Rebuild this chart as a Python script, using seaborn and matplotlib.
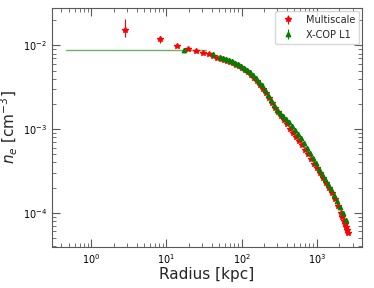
import numpy as np
import pandas as pd
import matplotlib
matplotlib.use("Agg")
import matplotlib.pyplot as plt
import seaborn as sns

# Multiscale profile (red stars)
ms_r = [2.78, 8.32, 13.7, 19.5, 24.9, 30.2, 36.3, 41.9, 47.4, 52.5, 57.5, 63.1,
        69.2, 75.9, 83.2, 91.2, 100, 109.6, 120.2, 131.8, 144.5, 158.5, 173.8,
        190.5, 208.9, 229.1, 251.2, 275.4, 302, 331, 363, 398, 437, 479, 525,
        575, 631, 692, 759, 832, 912, 1000, 1096, 1202, 1318, 1445, 1585, 1738,
        1905, 2089, 2190, 2291, 2365, 2436, 2510, 2590]
ms_ne = [0.01525, 0.0118, 0.00992, 0.00913, 0.00854, 0.00818, 0.00787, 0.00745,
         0.00718, 0.00699, 0.0068, 0.00656, 0.00634, 0.00614, 0.00589, 0.00563,
         0.00538, 0.00509, 0.00478, 0.00446, 0.00414, 0.00376, 0.00341, 0.00305,
         0.0027, 0.00235, 0.00205, 0.00181, 0.00161, 0.00143, 0.00128, 0.00115,
         0.001014, 0.000908, 0.000813, 0.000728, 0.000643, 0.000568, 0.000502,
         0.000443, 0.000388, 0.000341, 0.000299, 0.000262, 0.000229, 0.000199,
         0.000171, 0.000145, 0.000121, 0.0000986, 0.0000885, 0.0000791,
         0.0000735, 0.000068, 0.0000628, 0.0000576]
ms_err_lo = [0.0027, 0.0011, 0.0004] + [0.0] * 53
ms_err_hi = [0.0056, 0.0012, 0.0004] + [0.0] * 53

# X-COP L1 profile (green triangles)
xc_r = [17.2, 41.0, 50.9, 55.8, 61.2, 67.1, 73.6, 80.7, 88.5, 97.0, 106.3, 116.6,
        127.9, 140.2, 153.7, 168.5, 184.8, 202.6, 222.2, 243.6, 267.1, 292.9,
        321.1, 352.2, 386.1, 423.4, 464.2, 509.0, 558.1, 611.9, 670.9, 735.6,
        806.6, 884.4, 969.8, 1063, 1166, 1278, 1402, 1537, 1685, 1848, 2026,
        2222, 2436]
xc_ne = [0.00879, 0.00787, 0.00732, 0.00712, 0.00693, 0.0067, 0.00647, 0.00622,
         0.00595, 0.00571, 0.00542, 0.00512, 0.00478, 0.00443, 0.00408, 0.00371,
         0.00334, 0.00297, 0.00259, 0.00223, 0.00194, 0.00171, 0.00154, 0.00142,
         0.00132, 0.00121, 0.0011, 0.000986, 0.000883, 0.00078, 0.000689, 0.0006,
         0.000523, 0.000456, 0.000392, 0.000337, 0.000293, 0.000255, 0.000223,
         0.000191, 0.000164, 0.000139, 0.000118, 0.0000986, 0.0000813]

# flat inner extension of the X-COP profile
flat_r = [0.46, 34.0]
flat_ne = [0.0088, 0.0088]

sns.set_style("ticks")
plt.rcParams['font.family'] = ['DejaVu Sans']

fig = plt.figure(figsize=(3.74, 2.88), dpi=100)
ax = fig.add_axes([0.139, 0.142, 0.829, 0.830])

flat = pd.DataFrame({'r': flat_r, 'ne': flat_ne})
sns.lineplot(data=flat, x='r', y='ne', color='green', alpha=0.6, lw=1.0, ax=ax)

ax.errorbar(ms_r, ms_ne, yerr=[ms_err_lo, ms_err_hi], fmt='*', color='red',
            ms=3.8, elinewidth=0.8, capsize=0, label='Multiscale', zorder=3)
ax.errorbar(xc_r, xc_ne, yerr=0.0, fmt='^', color='green', ms=3.2,
            elinewidth=0.8, capsize=0, label='X-COP L1', zorder=4)

ax.set_xscale('log')
ax.set_yscale('log')
ax.set_xlim(0.3, 4000)
ax.set_ylim(3.9e-5, 0.028)
ax.set_xlabel('Radius [kpc]', fontsize=11, labelpad=1)
ax.set_ylabel(r'$n_e$ [cm$^{-3}$]', fontsize=11, labelpad=2)

ax.tick_params(which='both', direction='in', top=True, right=True,
               colors='0.35', labelcolor='black', labelsize=7)
ax.tick_params(which='major', length=5.5, width=0.8)
ax.tick_params(which='minor', length=3, width=0.6)
for s in ax.spines.values():
    s.set_color('0.35')
    s.set_linewidth(0.8)

ax.legend(loc='upper right', fontsize=7, borderaxespad=0.3, handletextpad=0.8)

fig.savefig('out.png', dpi=100)
